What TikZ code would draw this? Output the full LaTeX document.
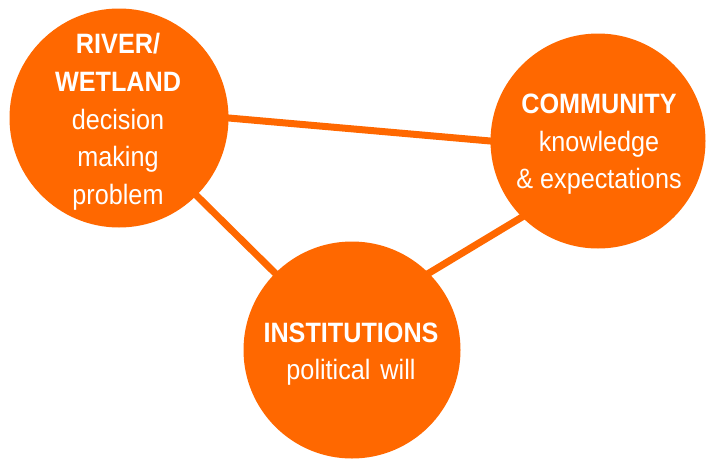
\documentclass[tikz,border=0pt]{standalone}
\usepackage{fontspec}
\setmainfont{Liberation Sans}[FakeStretch=0.9]
\usetikzlibrary{backgrounds}
\definecolor{blobcol}{RGB}{255,104,0}
\tikzset{
  blob/.style={circle, fill=blobcol, draw=none, inner sep=0pt},
  link/.style={draw=blobcol, line width=7pt, shorten <=-4pt, shorten >=-4pt},
  ttl/.style={text=white, anchor=base, inner sep=0pt, font=\fontsize{28}{32}\selectfont\bfseries},
  sub/.style={text=white, anchor=base, inner sep=0pt, font=\fontsize{28}{32}\selectfont}
}
\begin{document}
\begin{tikzpicture}[x=1pt,y=1pt]
\useasboundingbox (0,0) rectangle (706,-461);
% circles
\node[blob, minimum size=219pt] (c1) at (119,-118) {};
\node[blob, minimum size=215pt] (c2) at (598,-141) {};
\node[blob, minimum size=217pt] (c3) at (352,-350) {};
% connectors
\begin{scope}[on background layer]
\draw[link] (c1.east) -- (c2.west);
\draw[link] (c1.-45) -- (c3.135);
\draw[link] (c3.45) -- (c2.-135);
\end{scope}
% texts circle 1
\node[ttl] (t1a) at (118,-53) {RIVER/};
\node[ttl] (t1b) at (118,-91) {WETLAND};
\node[sub] (t1c) at (118,-129) {decision};
\node[sub] (t1d) at (118,-166) {making};
\node[sub] (t1e) at (118,-204) {problem};
% texts circle 2
\node[ttl] (t2a) at (599,-113) {COMMUNITY};
\node[sub] (t2b) at (599,-151) {knowledge};
\node[sub] (t2c) at (599,-188) {\& expectations};
% texts circle 3
\node[ttl] (t3a) at (351,-342) {INSTITUTIONS};
\node[sub] (t3b) at (351,-379) {political\hspace{3pt} will};
\end{tikzpicture}
\end{document}
